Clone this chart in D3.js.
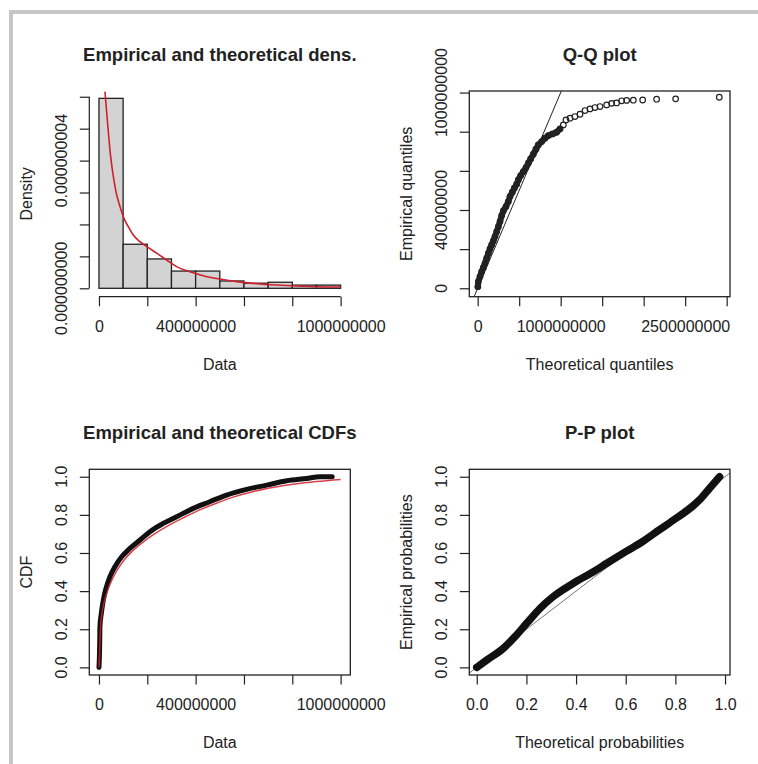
<!DOCTYPE html>
<html><head><meta charset="utf-8">
<script src="https://cdn.jsdelivr.net/npm/d3@7"></script>
<style>
html,body{margin:0;padding:0;background:#fff;}
svg{display:block;}
text{font-family:"Liberation Sans",Arial,sans-serif;fill:#222;}
</style></head><body>
<svg id="chart" width="758" height="764"></svg>
<script>
// ---------------- DATA ----------------
// Histogram (Empirical and theoretical dens.)
const histBinStart = [0, 1e8, 2e8, 3e8, 4e8, 5e8, 6e8, 7e8, 8e8, 9e8];
const histBinEnd   = [1e8, 2e8, 3e8, 4e8, 5e8, 6e8, 7e8, 8e8, 9e8, 1e9];
const histDensity  = [5.95e-9, 1.38e-9, 0.92e-9, 0.54e-9, 0.54e-9, 0.23e-9, 0.16e-9, 0.19e-9, 0.10e-9, 0.10e-9];
const densCurveX = [24.8e6, 31.7e6, 38.6e6, 45.5e6, 56.6e6, 70.3e6, 86.9e6, 100.7e6, 121.3e6, 142e6, 169.6e6, 200e6,
  238.6e6, 280e6, 321e6, 376.5e6, 431.7e6, 500.6e6, 569.6e6, 652.3e6, 735e6, 817.8e6, 900.6e6, 1000e6];
const densCurveY = [6.16e-9, 5.53e-9, 4.91e-9, 4.33e-9, 3.65e-9, 3.03e-9, 2.56e-9, 2.24e-9, 1.93e-9, 1.67e-9, 1.46e-9, 1.30e-9,
  1.10e-9, 0.886e-9, 0.678e-9, 0.52e-9, 0.396e-9, 0.291e-9, 0.208e-9, 0.145e-9, 0.103e-9, 0.072e-9, 0.051e-9, 0.041e-9];
const histXTicks = [0, 2e8, 4e8, 6e8, 8e8, 1e9];
const histXLabels = ["0", "", "400000000", "", "", "1000000000"];
const histYTicks = [0, 1e-9, 2e-9, 3e-9, 4e-9, 5e-9, 6e-9];
const histYLabels = ["0.000000000", "", "", "", "0.000000004", "", ""];

// Q-Q plot
const qqTheo = [2e6, 7.6e6, 27.7e6, 47.8e6, 67.9e6, 88e6, 108e6, 128e6, 148e6, 168e6, 188e6, 208e6, 229e6, 249e6, 269e6,
  289e6, 309e6, 341e6, 369e6, 389e6, 417e6, 441e6, 469.5e6, 489.5e6, 517.7e6, 549.8e6, 582e6, 610e6, 638e6, 670e6,
  702e6, 730e6, 771e6, 811e6, 851e6, 903e6, 951e6, 992e6, 1032e6, 1064e6, 1112e6, 1172e6, 1233e6, 1293e6, 1353e6,
  1413e6, 1474e6, 1554e6, 1614e6, 1674e6, 1735e6, 1795e6, 1875e6, 1988e6, 2156e6, 2385e6, 2911e6];
const qqEmp = [8.3e6, 33.9e6, 59.5e6, 85e6, 105.5e6, 127.6e6, 153.2e6, 178.8e6, 200.9e6, 221.3e6, 241.8e6, 264e6, 289.5e6, 315e6, 340.6e6,
  371.3e6, 395.2e6, 417.3e6, 442.9e6, 468.4e6, 490.6e6, 511e6, 531.5e6, 553.6e6, 575.8e6, 596.2e6, 616.7e6, 638.8e6, 661e6, 684.8e6,
  710.4e6, 732.6e6, 749.6e6, 766.6e6, 780.3e6, 788.8e6, 797.3e6, 814.4e6, 834.8e6, 860.3e6, 868.9e6, 877.4e6, 889.3e6, 908e6, 916.6e6,
  923.4e6, 928.5e6, 937e6, 945e6, 947e6, 958e6, 960e6, 961e6, 962e6, 966e6, 968e6, 976e6];
const qqXTicks = [0, 5e8, 1e9, 1.5e9, 2e9, 2.5e9, 3e9];
const qqXLabels = ["0", "", "1000000000", "", "", "2500000000", ""];
const qqYTicks = [0, 2e8, 4e8, 6e8, 8e8, 1e9];
const qqYLabels = ["0", "", "400000000", "", "", "1000000000"];

// CDF plot
const cdfEmpX = [0, 2.8e6, 4e6, 9.7e6, 18e6, 29e6, 45.5e6, 66e6, 94e6, 128e6, 170e6, 211e6, 266e6, 321e6, 390e6, 459e6,
  528e6, 611e6, 694e6, 777e6, 859e6, 914e6, 965e6];
const cdfEmpY = [0, 0.108, 0.213, 0.283, 0.353, 0.414, 0.476, 0.528, 0.58, 0.624, 0.668, 0.712, 0.755, 0.79, 0.834, 0.869,
  0.904, 0.934, 0.956, 0.979, 0.991, 1.0, 1.0];
const cdfTheoX = [0.5e6, 3e6, 6e6, 12e6, 22e6, 35e6, 52e6, 75e6, 105e6, 140e6, 185e6, 230e6, 285e6, 345e6, 410e6, 480e6,
  555e6, 640e6, 725e6, 810e6, 900e6, 1000e6];
const cdfTheoY = [0, 0.09, 0.2, 0.28, 0.345, 0.40, 0.455, 0.51, 0.565, 0.612, 0.66, 0.70, 0.742, 0.782, 0.822, 0.858,
  0.893, 0.923, 0.945, 0.962, 0.975, 0.986];
const probTicks = [0, 0.2, 0.4, 0.6, 0.8, 1.0];
const probLabels = ["0.0", "0.2", "0.4", "0.6", "0.8", "1.0"];

// P-P plot
const ppTheo = [0.0, 0.040, 0.107, 0.154, 0.201, 0.255, 0.308, 0.389, 0.470, 0.524, 0.600, 0.667, 0.735, 0.803, 0.868, 0.897, 0.938, 0.978];
const ppEmp  = [0.0, 0.038, 0.100, 0.161, 0.231, 0.310, 0.371, 0.441, 0.502, 0.546, 0.607, 0.659, 0.721, 0.782, 0.843, 0.878, 0.940, 1.0];

// Titles
const titles = ["Empirical and theoretical dens.", "Q-Q plot", "Empirical and theoretical CDFs", "P-P plot"];
const xTitles = ["Data", "Theoretical quantiles", "Data", "Theoretical probabilities"];
const yTitles = ["Density", "Empirical quantiles", "CDF", "Empirical probabilities"];

// ---------------- LAYOUT ----------------
const INK = "#222";
const RED = "#d0202c";
const svg = d3.select("#chart");

svg.append("rect").attr("x", 9).attr("y", 10).attr("width", 749).attr("height", 4).attr("fill", "#c6c6c6");
svg.append("rect").attr("x", 9).attr("y", 10).attr("width", 4).attr("height", 754).attr("fill", "#c6c6c6");

const P = [
  {left: 89.3, right: 350.3, top: 91, bottom: 296.7},
  {left: 469.3, right: 730, top: 91, bottom: 296.7},
  {left: 89.3, right: 350.3, top: 469.3, bottom: 675},
  {left: 469.3, right: 730, top: 469.3, bottom: 675}
];

P.forEach((p, i) => {
  svg.append("clipPath").attr("id", "clip" + i).append("rect")
    .attr("x", p.left).attr("y", p.top).attr("width", p.right - p.left).attr("height", p.bottom - p.top);
  svg.append("text").attr("x", (p.left + p.right) / 2).attr("y", p.top - 30.3)
    .attr("text-anchor", "middle").style("font-size", "18.5px").style("font-weight", "bold").text(titles[i]);
  svg.append("text").attr("x", (p.left + p.right) / 2).attr("y", p.bottom + 73.1)
    .attr("text-anchor", "middle").style("font-size", "16px").text(xTitles[i]);
  svg.append("text").attr("transform", `translate(${p.left - 57.8},${(p.top + p.bottom) / 2}) rotate(-90)`)
    .attr("text-anchor", "middle").style("font-size", "16px").text(yTitles[i]);
});

function xAxis(p, scale, ticks, labels, domainLine) {
  const g = svg.append("g").attr("transform", `translate(0,${p.bottom})`)
    .call(d3.axisBottom(scale).tickValues(ticks).tickSize(9.5).tickSizeOuter(0).tickPadding(14.5)
      .tickFormat((d, i) => labels[i]));
  g.selectAll(".tick line").attr("stroke", INK).attr("stroke-width", 1.2);
  if (domainLine) {
    g.select(".domain").attr("d", `M${scale(ticks[0])},0H${scale(ticks[ticks.length - 1])}`)
      .attr("stroke", INK).attr("stroke-width", 1.2);
  } else g.select(".domain").remove();
  g.selectAll("text").attr("fill", INK).style("font-size", "16px")
    .style("font-family", '"Liberation Sans",Arial,sans-serif');
}
function yAxis(p, scale, ticks, labels, domainLine) {
  const g = svg.append("g").attr("transform", `translate(${p.left},0)`)
    .call(d3.axisLeft(scale).tickValues(ticks).tickSize(9.5).tickSizeOuter(0).tickFormat(() => ""));
  g.selectAll(".tick line").attr("stroke", INK).attr("stroke-width", 1.2);
  if (domainLine) {
    g.select(".domain").attr("d", `M0,${scale(ticks[0])}V${scale(ticks[ticks.length - 1])}`)
      .attr("stroke", INK).attr("stroke-width", 1.2);
  } else g.select(".domain").remove();
  ticks.forEach((t, i) => {
    if (!labels[i]) return;
    svg.append("text").attr("transform", `translate(${p.left - 27.6},${scale(t)}) rotate(-90)`)
      .attr("dy", "0.36em").attr("text-anchor", "middle").style("font-size", "16px").text(labels[i]);
  });
}
function box(p) {
  svg.append("rect").attr("x", p.left).attr("y", p.top).attr("width", p.right - p.left).attr("height", p.bottom - p.top)
    .attr("fill", "none").attr("stroke", INK).attr("stroke-width", 1.3);
}

// ---------- Panel 1: histogram + density ----------
{
  const p = P[0];
  const x = d3.scaleLinear().domain([-40e6, 1040e6]).range([p.left, p.right]);
  const y = d3.scaleLinear().domain([-0.263e-9, 6.18e-9]).range([p.bottom, p.top]);
  const bins = histDensity.map((d, i) => ({x0: histBinStart[i], x1: histBinEnd[i], d}));
  svg.append("g").selectAll("rect").data(bins).join("rect")
    .attr("x", b => x(b.x0)).attr("width", b => x(b.x1) - x(b.x0))
    .attr("y", b => y(b.d)).attr("height", b => y(0) - y(b.d))
    .attr("fill", "#d3d3d3").attr("stroke", INK).attr("stroke-width", 1.3);
  const pts = densCurveX.map((v, i) => [v, densCurveY[i]]);
  svg.append("path").attr("clip-path", "url(#clip0)")
    .attr("d", d3.line().x(d => x(d[0])).y(d => y(d[1])).curve(d3.curveMonotoneX)(pts))
    .attr("fill", "none").attr("stroke", RED).attr("stroke-width", 1.6);
  xAxis(p, x, histXTicks, histXLabels, true);
  yAxis(p, y, histYTicks, histYLabels, true);
}

// ---------- Panel 2: Q-Q plot ----------
{
  const p = P[1];
  const x = d3.scaleLinear().domain([-101e6, 3040e6]).range([p.left, p.right]);
  const y = d3.scaleLinear().domain([-43e6, 1008e6]).range([p.bottom, p.top]);
  const g = svg.append("g").attr("clip-path", "url(#clip1)");
  const lo = -200e6, hi = 3200e6;
  g.append("line").attr("x1", x(lo)).attr("y1", y(lo)).attr("x2", x(hi)).attr("y2", y(hi))
    .attr("stroke", INK).attr("stroke-width", 1);
  const pts = qqTheo.map((v, i) => [v, qqEmp[i]]);
  g.append("path").attr("d", d3.line().x(d => x(d[0])).y(d => y(d[1]))(pts.slice(0, 38)))
    .attr("fill", "none").attr("stroke", INK).attr("stroke-width", 6).attr("stroke-linecap", "round")
    .attr("stroke-linejoin", "round");
  g.selectAll("circle").data(pts).join("circle")
    .attr("cx", d => x(d[0])).attr("cy", d => y(d[1])).attr("r", 2.8)
    .attr("fill", "none").attr("stroke", INK).attr("stroke-width", 1.2);
  box(p);
  xAxis(p, x, qqXTicks, qqXLabels, false);
  yAxis(p, y, qqYTicks, qqYLabels, false);
}

// ---------- Panel 3: CDFs ----------
{
  const p = P[2];
  const x = d3.scaleLinear().domain([-40e6, 1040e6]).range([p.left, p.right]);
  const y = d3.scaleLinear().domain([-0.04, 1.039]).range([p.bottom, p.top]);
  const g = svg.append("g").attr("clip-path", "url(#clip2)");
  const theo = cdfTheoX.map((v, i) => [v, cdfTheoY[i]]);
  const emp = cdfEmpX.map((v, i) => [v, cdfEmpY[i]]);
  g.append("path").attr("d", d3.line().x(d => x(d[0])).y(d => y(d[1])).curve(d3.curveMonotoneX)(emp))
    .attr("fill", "none").attr("stroke", "#111").attr("stroke-width", 5).attr("stroke-linecap", "round")
    .attr("stroke-linejoin", "round");
  g.append("path").attr("d", d3.line().x(d => x(d[0])).y(d => y(d[1])).curve(d3.curveMonotoneX)(theo))
    .attr("fill", "none").attr("stroke", RED).attr("stroke-width", 1.5).attr("opacity", 0.85);
  box(p);
  xAxis(p, x, histXTicks, histXLabels, false);
  yAxis(p, y, probTicks, probLabels, false);
}

// ---------- Panel 4: P-P plot ----------
{
  const p = P[3];
  const x = d3.scaleLinear().domain([-0.03, 1.02]).range([p.left, p.right]);
  const y = d3.scaleLinear().domain([-0.04, 1.039]).range([p.bottom, p.top]);
  const g = svg.append("g").attr("clip-path", "url(#clip3)");
  g.append("line").attr("x1", x(-0.1)).attr("y1", y(-0.1)).attr("x2", x(1.1)).attr("y2", y(1.1))
    .attr("stroke", "#777").attr("stroke-width", 1);
  const pts = ppTheo.map((v, i) => [v, ppEmp[i]]);
  g.append("path").attr("d", d3.line().x(d => x(d[0])).y(d => y(d[1])).curve(d3.curveMonotoneX)(pts))
    .attr("fill", "none").attr("stroke", "#111").attr("stroke-width", 7.5).attr("stroke-linecap", "round")
    .attr("stroke-linejoin", "round");
  box(p);
  xAxis(p, x, probTicks, probLabels, false);
  yAxis(p, y, probTicks, probLabels, false);
}
</script>
</body></html>
